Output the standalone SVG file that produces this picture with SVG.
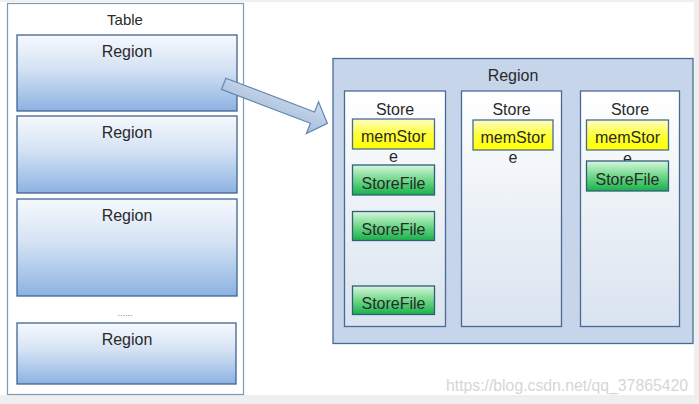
<svg xmlns="http://www.w3.org/2000/svg" width="699" height="404" viewBox="0 0 699 404">
<defs>
<linearGradient id="gRegion" x1="0" y1="0" x2="0" y2="1">
<stop offset="0" stop-color="#f6f9fd"/>
<stop offset="0.45" stop-color="#d4e2f4"/>
<stop offset="1" stop-color="#8cb2e2"/>
</linearGradient>
<linearGradient id="gStore" x1="0" y1="0" x2="0" y2="1">
<stop offset="0" stop-color="#ffffff"/>
<stop offset="1" stop-color="#d9e3ef"/>
</linearGradient>
<linearGradient id="gMem" x1="0" y1="0" x2="0" y2="1">
<stop offset="0" stop-color="#fdfdc4"/>
<stop offset="0.5" stop-color="#ffff3a"/>
<stop offset="1" stop-color="#ffff00"/>
</linearGradient>
<linearGradient id="gFile" x1="0" y1="0" x2="0" y2="1">
<stop offset="0" stop-color="#d8f5dc"/>
<stop offset="0.5" stop-color="#6fd98a"/>
<stop offset="1" stop-color="#19b04a"/>
</linearGradient>
<linearGradient id="gArrow" x1="0" y1="0" x2="0" y2="1">
<stop offset="0" stop-color="#cfdcee"/>
<stop offset="1" stop-color="#a4bcdc"/>
</linearGradient>
</defs>
<style>
text{font-family:"Liberation Sans",Arial,sans-serif;font-size:16px;fill:#2a2a2a;text-anchor:middle}
.region{fill:url(#gRegion);stroke:#41658f;stroke-width:1.3}
.store{fill:url(#gStore);stroke:#4a6a94;stroke-width:1.3}
.mem{fill:url(#gMem);stroke:#4a6a94;stroke-width:1.3}
.file{fill:url(#gFile);stroke:#2f5f7a;stroke-width:1.3}
</style>
<rect x="0" y="0" width="699" height="404" fill="#efefef"/>
<rect x="0" y="2" width="694" height="393" fill="#ffffff"/>

<g id="table">
<rect x="7.5" y="3.5" width="236" height="391" fill="#ffffff" stroke="#7f9ab8" stroke-width="1.2"/>
<text x="125" y="25" style="font-size:15px">Table</text>
</g>
<g id="table-region-1">
<rect class="region" x="17" y="35" width="220" height="76"/>
<text x="127" y="57">Region</text>
</g>
<g id="table-region-2">
<rect class="region" x="17" y="116" width="220" height="77"/>
<text x="127" y="138">Region</text>
</g>
<g id="table-region-3">
<rect class="region" x="17" y="199" width="220" height="97"/>
<text x="127" y="221">Region</text>
</g>
<text x="125" y="316" style="font-size:9px;fill:#777">......</text>
<g id="table-region-4">
<rect class="region" x="17" y="323" width="219" height="61"/>
<text x="127" y="345">Region</text>
</g>

<g id="connectors">
<polygon transform="translate(223.7,83.8) rotate(20.9)" points="0,-6 95,-6 95,-17 111,0 95,17 95,6 0,6" fill="url(#gArrow)" stroke="#6585b0" stroke-width="1.2" stroke-linejoin="miter"/>
</g>

<g id="region-detail">
<rect x="333" y="58.5" width="360" height="285" fill="#c6d5ea" stroke="#4a6a94" stroke-width="1.3"/>
<text x="513" y="81">Region</text>
</g>

<g id="store-1">
<rect class="store" x="344.5" y="91" width="101" height="235.5"/>
<text x="395" y="115">Store</text>
<g id="store-1-memstore">
<rect class="mem" x="352.5" y="119" width="82" height="30"/>
<text x="393.5" y="142" textLength="65" lengthAdjust="spacingAndGlyphs">memStor</text>
<text x="393.5" y="161.5">e</text>
</g>
<g id="store-1-storefile-1">
<rect class="file" x="352.5" y="165" width="82" height="30"/>
<text x="393.5" y="188.5">StoreFile</text>
</g>
<g id="store-1-storefile-2">
<rect class="file" x="352.5" y="211.5" width="82" height="29"/>
<text x="393.5" y="235">StoreFile</text>
</g>
<g id="store-1-storefile-3">
<rect class="file" x="352.5" y="286" width="82" height="28.5"/>
<text x="393.5" y="309">StoreFile</text>
</g>
</g>

<g id="store-2">
<rect class="store" x="461.5" y="91" width="100" height="235.5"/>
<text x="511.5" y="115">Store</text>
<g id="store-2-memstore">
<rect class="mem" x="473" y="120" width="80" height="30"/>
<text x="513" y="143" textLength="65" lengthAdjust="spacingAndGlyphs">memStor</text>
<text x="513" y="162.5">e</text>
</g>
</g>

<g id="store-3">
<rect class="store" x="580.5" y="91" width="99" height="235.5"/>
<text x="630" y="115">Store</text>
<g id="store-3-memstore">
<rect class="mem" x="586.5" y="120" width="82" height="30"/>
<text x="627.5" y="143" textLength="65" lengthAdjust="spacingAndGlyphs">memStor</text>
<text x="627.5" y="164">e</text>
</g>
<g id="store-3-storefile-1">
<rect class="file" x="586.5" y="161" width="82" height="30"/>
<text x="627.5" y="184.5">StoreFile</text>
</g>
</g>

<text x="567" y="391" style="font-size:16px;fill:#d6d6d6" textLength="242" lengthAdjust="spacingAndGlyphs">https://blog.csdn.net/qq_37865420</text>
</svg>
